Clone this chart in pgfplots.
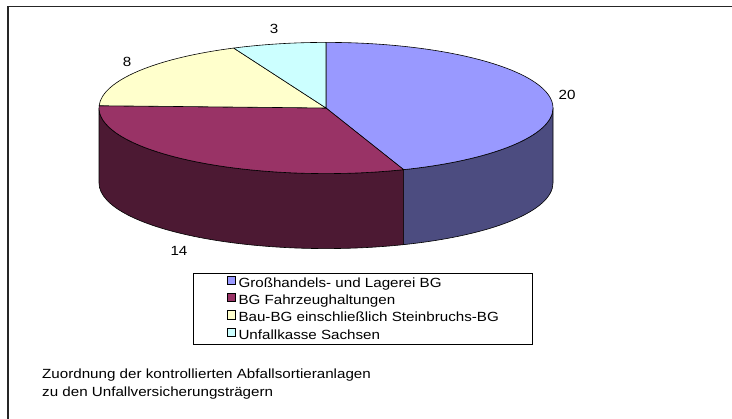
\documentclass[border=0pt]{standalone}
\usepackage{fontspec}
\setmainfont{Liberation Sans}[FakeStretch=1.14]
\usepackage{pgfplots}
\pgfplotsset{compat=1.18}
\definecolor{cBlue}{HTML}{9999FF}
\definecolor{cMaroon}{HTML}{993366}
\definecolor{cYellow}{HTML}{FFFFCC}
\definecolor{cCyan}{HTML}{CCFFFF}
\begin{document}
\begin{tikzpicture}[font=\fontsize{13.3}{16}\selectfont]
% data
\def\vA{20}\def\vB{14}\def\vC{8}\def\vD{3}
% geometry (pt)
\def\cx{326}\def\cy{311}\def\rx{227}\def\ry{65.6}\def\dep{75}
\pgfmathsetmacro\total{\vA+\vB+\vC+\vD}
\pgfmathsetmacro\aA{90}
\pgfmathsetmacro\aB{\aA-360*\vA/\total}
\pgfmathsetmacro\aC{\aB-360*\vB/\total}
\pgfmathsetmacro\aD{\aC-360*\vC/\total}
\pgfmathsetmacro\aE{\aD-360*\vD/\total}
% visible side ranges
\pgfmathsetmacro\sAs{min(\aA,0)}\pgfmathsetmacro\sAe{max(\aB,-180)}
\pgfmathsetmacro\sBs{min(\aB,0)}\pgfmathsetmacro\sBe{max(\aC,-180)}
% points
\pgfmathsetmacro\xA{\cx+\rx*cos(\aA)}\pgfmathsetmacro\yA{\cy+\ry*sin(\aA)}
\pgfmathsetmacro\xB{\cx+\rx*cos(\aB)}\pgfmathsetmacro\yB{\cy+\ry*sin(\aB)}
\pgfmathsetmacro\xC{\cx+\rx*cos(\aC)}\pgfmathsetmacro\yC{\cy+\ry*sin(\aC)}
\pgfmathsetmacro\xD{\cx+\rx*cos(\aD)}\pgfmathsetmacro\yD{\cy+\ry*sin(\aD)}
\pgfmathsetmacro\xSAs{\cx+\rx*cos(\sAs)}\pgfmathsetmacro\ySAs{\cy+\ry*sin(\sAs)}
\pgfmathsetmacro\xSAe{\cx+\rx*cos(\sAe)}\pgfmathsetmacro\ySAe{\cy+\ry*sin(\sAe)-\dep}
\pgfmathsetmacro\xSBs{\cx+\rx*cos(\sBs)}\pgfmathsetmacro\ySBs{\cy+\ry*sin(\sBs)}
\pgfmathsetmacro\xSBe{\cx+\rx*cos(\sBe)}\pgfmathsetmacro\ySBe{\cy+\ry*sin(\sBe)-\dep}
\begin{axis}[
  scale only axis, width=732pt, height=419pt,
  xmin=0, xmax=732, ymin=0, ymax=419, enlargelimits=false,
  hide axis, clip=false,
  legend style={at={(axis cs:193,146)}, anchor=north west, draw=black, line width=0.6pt,
    minimum width=339pt, minimum height=71pt, inner sep=0pt,
    font=\fontsize{13.3}{16}\selectfont, row sep=2.9pt,
    nodes={inner sep=0pt, minimum width=0pt, minimum height=0pt, text height=9.6pt, text depth=2.8pt, line width=0.4pt},
    /tikz/every odd column/.append style={column sep=3pt}},
  legend cell align=left,
  legend image code/.code={\draw[#1, draw=black, line width=0.5pt] (0pt,-0.3pt) rectangle (8.3pt,8pt);},
]
\addlegendimage{fill=cBlue}\addlegendentry{Großhandels- und Lagerei BG}
\addlegendimage{fill=cMaroon}\addlegendentry{BG Fahrzeughaltungen}
\addlegendimage{fill=cYellow}\addlegendentry{Bau-BG einschließlich Steinbruchs-BG}
\addlegendimage{fill=cCyan}\addlegendentry{Unfallkasse Sachsen}
% sides
\filldraw[fill=cBlue!50!black, draw=black, line width=0.6pt, line join=round]
  (axis cs:\xSAs,\ySAs) arc[start angle=\sAs, end angle=\sAe, x radius=\rx pt, y radius=\ry pt]
  -- (axis cs:\xSAe,\ySAe) arc[start angle=\sAe, end angle=\sAs, x radius=\rx pt, y radius=\ry pt] -- cycle;
\filldraw[fill=cMaroon!50!black, draw=black, line width=0.6pt, line join=round]
  (axis cs:\xSBs,\ySBs) arc[start angle=\sBs, end angle=\sBe, x radius=\rx pt, y radius=\ry pt]
  -- (axis cs:\xSBe,\ySBe) arc[start angle=\sBe, end angle=\sBs, x radius=\rx pt, y radius=\ry pt] -- cycle;
% tops
\filldraw[fill=cBlue, draw=black, line width=0.6pt, line join=round]
  (axis cs:\cx,\cy) -- (axis cs:\xA,\yA) arc[start angle=\aA, end angle=\aB, x radius=\rx pt, y radius=\ry pt] -- cycle;
\filldraw[fill=cMaroon, draw=black, line width=0.6pt, line join=round]
  (axis cs:\cx,\cy) -- (axis cs:\xB,\yB) arc[start angle=\aB, end angle=\aC, x radius=\rx pt, y radius=\ry pt] -- cycle;
\filldraw[fill=cYellow, draw=black, line width=0.6pt, line join=round]
  (axis cs:\cx,\cy) -- (axis cs:\xC,\yC) arc[start angle=\aC, end angle=\aD, x radius=\rx pt, y radius=\ry pt] -- cycle;
\filldraw[fill=cCyan, draw=black, line width=0.6pt, line join=round]
  (axis cs:\cx,\cy) -- (axis cs:\xD,\yD) arc[start angle=\aD, end angle=\aE, x radius=\rx pt, y radius=\ry pt] -- cycle;
% value labels
\node at (axis cs:567,324) {\vA};
\node at (axis cs:179,168) {\vB};
\node at (axis cs:127,357) {\vC};
\node at (axis cs:274,390) {\vD};
% caption
\node[anchor=base west, inner sep=0pt] at (axis cs:42,40) {Zuordnung der kontrollierten Abfallsortieranlagen};
\node[anchor=base west, inner sep=0pt] at (axis cs:42,22) {zu den Unfallversicherungsträgern};
% frame
\draw[line width=1.6pt, black!85] (axis cs:8,0) -- (axis cs:8,412.5) -- (axis cs:740,412.5);
\end{axis}
\pgfresetboundingbox
\path (0,0) rectangle (732pt,419pt);
\end{tikzpicture}
\end{document}
